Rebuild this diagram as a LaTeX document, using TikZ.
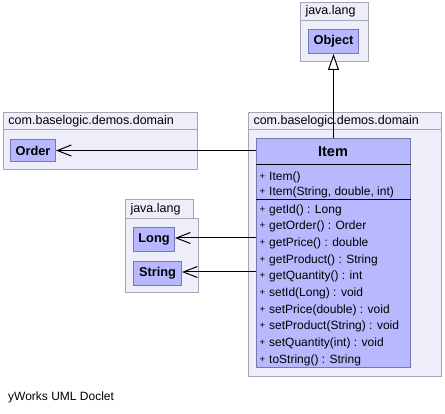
\documentclass[tikz,border=0pt]{standalone}
\usepackage{fontspec}
\setmainfont{Liberation Sans}
\usepackage{tikz}
\usetikzlibrary{arrows.meta}
\definecolor{pkgfill}{RGB}{238,238,250}
\definecolor{pkgline}{RGB}{165,165,180}
\definecolor{clsfill}{RGB}{184,184,255}
\definecolor{clsline}{RGB}{120,120,176}
\newcommand{\plusmark}{\makebox[9.5pt][l]{\fontsize{9.5}{9.5}\selectfont\raisebox{1.2pt}{+}}}

\begin{document}
\begin{tikzpicture}[x=1pt,y=-1pt]
\tikzstyle{every node}+=[inner sep=0pt]
\tikzstyle{pkg}=[draw=pkgline, fill=pkgfill, line width=1pt, anchor=north west]
\tikzstyle{pkgtab}=[pkg, font=\fontsize{12.5}{14}\selectfont, inner xsep=5pt, align=left]
\tikzstyle{cls}=[draw=clsline, fill=clsfill, line width=1pt, anchor=north west, font=\fontsize{12.8}{14}\selectfont\bfseries]
\tikzstyle{member}=[anchor=west, font=\fontsize{12}{14}\selectfont, text height=8.6pt, text depth=0pt]
\tikzstyle{assoc}=[line width=1pt, -{Straight Barb[length=14pt,width=11pt]}]
\tikzstyle{extends}=[line width=1pt, -{Triangle[length=16pt,width=11pt,fill=white]}]
\useasboundingbox (0,0) rectangle (445,414);
% java.lang, top
\node [pkg, minimum width=68pt, minimum height=41pt] (langTop) at (300,20) {};
\node [pkgtab, text width=58pt, minimum height=18pt] (langTopTab) at (300,2) {java.lang};
\node [cls, minimum width=50pt, minimum height=24pt] (object) at (308,29) {Object};
% com.baselogic.demos.domain, left
\node [pkg, minimum width=194pt, minimum height=40pt] (domainLeft) at (3,129) {};
\node [pkgtab, text width=184pt, minimum height=17pt] (domainLeftTab) at (3,112) {com.baselogic.demos.domain};
\node [cls, minimum width=45pt, minimum height=22pt] (order) at (10,139) {Order};
% java.lang, bottom
\node [pkg, minimum width=73pt, minimum height=74pt] (langLow) at (125,218) {};
\node [pkgtab, text width=58pt, minimum height=19pt] (langLowTab) at (125,199) {java.lang};
\node [cls, minimum width=41pt, minimum height=24pt] (long) at (133,227) {Long};
\node [cls, minimum width=48pt, minimum height=24pt] (string) at (133,261) {String};
% com.baselogic.demos.domain, right
\node [pkg, minimum width=193pt, minimum height=247pt] (domainRight) at (248,129) {};
\node [pkgtab, text width=183pt, minimum height=17pt] (domainRightTab) at (248,112) {com.baselogic.demos.domain};
\node [cls, minimum width=154pt, minimum height=229pt] (item) at (256,138) {};
\node [font=\fontsize{14.5}{16}\selectfont\bfseries] (itemName) at (333,152) {Item};
\draw [line width=1pt] (item.west |- 0,165) -- (item.east |- 0,165);
\draw [line width=1pt] (item.west |- 0,200) -- (item.east |- 0,200);
\foreach \m [count=\i] in {Item(), {Item(String, double, int)}}
  \node [member] (ctor\i) at (259.5,{161.5+15*\i}) {\plusmark\m};
\foreach \m [count=\i] in {getId() : Long, getOrder() : Order, getPrice() : double,
    getProduct() : String, getQuantity() : int, setId(Long) : void,
    setPrice(double) : void, setProduct(String) : void, setQuantity(int) : void,
    toString() : String}
  \node [member] (method\i) at (259.5,{192.33+16.67*\i}) {\plusmark\m};
% connectors
\draw [extends] (item.north) -- (object.south);
\draw [assoc] (item.west |- order.east) -- (order.east);
\draw [assoc] (item.west |- 0,238) -- (long.east |- 0,238);
\draw [assoc] (item.west |- 0,272) -- (string.east |- 0,272);
\node [anchor=west, font=\fontsize{12}{14}\selectfont] (doclet) at (8,397) {yWorks UML Doclet};
\end{tikzpicture}
\end{document}
